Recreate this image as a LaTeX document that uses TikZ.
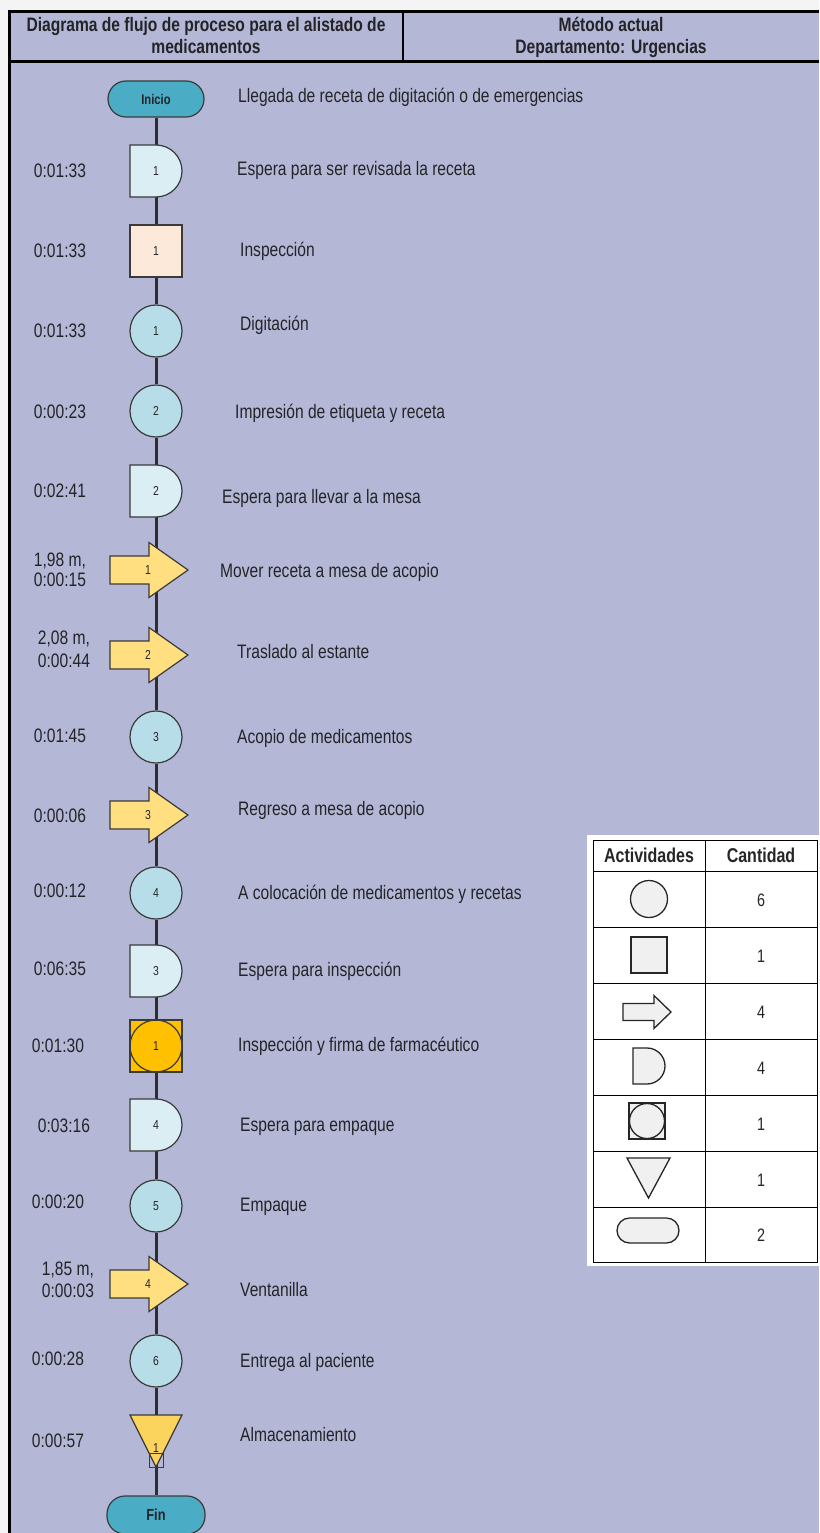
\documentclass[tikz,border=0pt]{standalone}
\usepackage{fontspec}
\setmainfont{Liberation Sans}[FakeStretch=0.8]
\usetikzlibrary{calc}

\definecolor{paper}{RGB}{244,244,244}
\definecolor{panel}{RGB}{180,184,214}
\definecolor{edge}{RGB}{58,58,58}
\definecolor{ink}{RGB}{36,36,40}
\definecolor{opfill}{RGB}{183,222,232}
\definecolor{waitfill}{RGB}{218,238,243}
\definecolor{inspfill}{RGB}{253,233,217}
\definecolor{combofill}{RGB}{255,192,0}
\definecolor{movefill}{RGB}{255,223,128}
\definecolor{storefill}{RGB}{250,212,92}
\definecolor{termfill}{RGB}{75,172,198}
\definecolor{legfill}{RGB}{240,240,240}

\pgfdeclarelayer{back}
\pgfdeclarelayer{links}
\pgfsetlayers{back,links,main}

% wait symbol (D shape) centred on the spine
\newcommand\waitsym[3]{%
  \filldraw[shapeline, fill=waitfill] (130,#2-26) -- (156,#2-26)
    arc[start angle=90, end angle=-90, radius=26pt] -- (130,#2+26) -- cycle;
  \node[num] (#1) at (156,#2) {#3};}

% transport symbol (block arrow)
\newcommand\movesym[3]{%
  \filldraw[shapeline, fill=movefill] (110,#2-14) -- (149,#2-14) -- (149,#2-27.5)
    -- (188,#2) -- (149,#2+27.5) -- (149,#2+14) -- (110,#2+14) -- cycle;
  \node[hub] (#1) at (156,#2) {};
  \node[num] (#1n) at (148,#2) {#3};}

\begin{document}
\begin{tikzpicture}[x=1pt,y=-1pt,
  body/.style={font=\fontsize{19.5}{22}\selectfont, text=ink, inner sep=0pt},
  desc/.style={body, anchor=base west},
  time/.style={body, anchor=base},
  head/.style={font=\bfseries\fontsize{19.5}{22}\selectfont, text=ink, inner sep=0pt, anchor=base},
  num/.style={font=\fontsize{13}{15}\selectfont, text=ink, inner sep=0pt},
  hub/.style={inner sep=0pt, minimum size=0pt},
  shapeline/.style={draw=edge, line width=1.2pt},
  op/.style={circle, shapeline, fill=opfill, minimum size=52pt, inner sep=0pt,
    font=\fontsize{13}{15}\selectfont, text=ink},
  insp/.style={rectangle, shapeline, fill=inspfill, minimum size=52pt, inner sep=0pt,
    font=\fontsize{13}{15}\selectfont, text=ink},
  combo/.style={rectangle, shapeline, fill=combofill, minimum size=52pt, inner sep=0pt,
    font=\fontsize{13}{15}\selectfont, text=ink},
  term/.style={rectangle, rounded corners=18pt, shapeline, fill=termfill, inner sep=0pt,
    font=\bfseries\fontsize{14}{16}\selectfont, text=ink},
  spine/.style={draw=black!82, line width=3pt},
  legline/.style={draw=black, line width=1pt},
  legsym/.style={draw=black!85, line width=1.3pt, fill=legfill},
  leghead/.style={font=\bfseries\fontsize{20}{24}\selectfont, text=black!85, inner sep=0pt, anchor=base},
  legval/.style={font=\fontsize{18}{22}\selectfont, text=black!85, inner sep=0pt, anchor=base}]

\useasboundingbox (0,0) rectangle (819,1533);

% page and panel
\begin{pgfonlayer}{back}
  \fill[paper] (0,0) rectangle (819,1533);
  \fill[panel] (9.5,11.5) rectangle (819,1533);
\end{pgfonlayer}

% frame and heading cells
\draw[line width=2.8pt] (9.5,1533) -- (9.5,11.5) -- (819,11.5);
\draw[line width=2.4pt] (9.5,61.5) -- (819,61.5);
\draw[line width=1.6pt] (403,11.5) -- (403,61.5);

\node[head] (title1) at (206,32) {Diagrama de flujo de proceso para el alistado de};
\node[head] (title2) at (206,54) {medicamentos};
\node[head] (meth1) at (611,32) {Método actual};
\node[head] (meth2) at (611,54) {Departamento: Urgencias};

% process symbols
\node[term, minimum width=96pt, minimum height=36pt] (start) at (156,99) {Inicio};
\waitsym{w1}{171}{1}
\node[insp] (i1) at (156,251) {1};
\node[op] (o1) at (156,331) {1};
\node[op] (o2) at (156,411) {2};
\waitsym{w2}{491}{2}
\movesym{m1}{570}{1}
\movesym{m2}{655}{2}
\node[op] (o3) at (156,737) {3};
\movesym{m3}{815}{3}
\node[op] (o4) at (156,893) {4};
\waitsym{w3}{971}{3}
\node[combo] (c1) at (156,1046) {};
\draw[shapeline] (c1.center) circle[radius=26pt];
\node[num] (c1n) at (156,1046) {1};
\waitsym{w4}{1125}{4}
\node[op] (o5) at (156,1206) {5};
\movesym{m4}{1284}{4}
\node[op] (o6) at (156,1361) {6};
% storage symbol with its small box
\filldraw[shapeline, fill=storefill] (130,1415) -- (182,1415) -- (156,1467) -- cycle;
\draw[draw=edge, line width=0.9pt] (149,1453) rectangle (163,1467);
\node[hub] (s1) at (156,1441) {};
\node[num] (s1n) at (156,1448) {1};
\node[term, minimum width=98pt, minimum height=38pt, font=\bfseries\fontsize{16}{18}\selectfont] (finish) at (156,1515) {Fin};

% spine connectors
\begin{pgfonlayer}{links}
  \foreach \a/\b in {start/w1, w1/i1, i1/o1, o1/o2, o2/w2, w2/m1, m1/m2, m2/o3,
      o3/m3, m3/o4, o4/w3, w3/c1, c1/w4, w4/o5, o5/m4, m4/o6, o6/s1, s1/finish}
    \draw[spine] (\a) -- (\b);
\end{pgfonlayer}

% descriptions
\node[desc] (d1) at (238,103) {Llegada de receta de digitación o de emergencias};
\node[desc] (d2) at (237,176) {Espera para ser revisada la receta};
\node[desc] (d3) at (240,256) {Inspección};
\node[desc] (d4) at (240,330) {Digitación};
\node[desc] (d5) at (235,418) {Impresión de etiqueta y receta};
\node[desc] (d6) at (222,503) {Espera para llevar a la mesa};
\node[desc] (d7) at (220,577) {Mover receta a mesa de acopio};
\node[desc] (d8) at (237,658) {Traslado al estante};
\node[desc] (d9) at (237,743) {Acopio de medicamentos};
\node[desc] (d10) at (238,815) {Regreso a mesa de acopio};
\node[desc] (d11) at (238,899) {A colocación de medicamentos y recetas};
\node[desc] (d12) at (238,976) {Espera para inspección};
\node[desc] (d13) at (238,1051) {Inspección y firma de farmacéutico};
\node[desc] (d14) at (240,1131) {Espera para empaque};
\node[desc] (d15) at (240,1211) {Empaque};
\node[desc] (d16) at (240,1296) {Ventanilla};
\node[desc] (d17) at (240,1367) {Entrega al paciente};
\node[desc] (d18) at (240,1441) {Almacenamiento};

% times and distances
\node[time] (t1) at (60,178) {0:01:33};
\node[time] (t2) at (60,257) {0:01:33};
\node[time] (t3) at (60,337) {0:01:33};
\node[time] (t4) at (60,418) {0:00:23};
\node[time] (t5) at (60,497) {0:02:41};
\node[time] (t6a) at (60,566) {1,98 m,};
\node[time] (t6b) at (60,586) {0:00:15};
\node[time] (t7a) at (64,644) {2,08 m,};
\node[time] (t7b) at (64,667) {0:00:44};
\node[time] (t8) at (60,742) {0:01:45};
\node[time] (t9) at (60,822) {0:00:06};
\node[time] (t10) at (60,897) {0:00:12};
\node[time] (t11) at (60,975) {0:06:35};
\node[time] (t12) at (58,1052) {0:01:30};
\node[time] (t13) at (64,1132) {0:03:16};
\node[time] (t14) at (58,1208) {0:00:20};
\node[time] (t15a) at (68,1275) {1,85 m,};
\node[time] (t15b) at (68,1297) {0:00:03};
\node[time] (t16) at (58,1365) {0:00:28};
\node[time] (t17) at (58,1447) {0:00:57};

% summary table
\fill[white] (587,835) rectangle (819,1266);
\draw[legline] (593,840) rectangle (817,1262);
\draw[legline] (705,840) -- (705,1262);
\foreach \yy in {871,927,983,1039,1095,1151,1207}
  \draw[legline] (593,\yy) -- (817,\yy);
\node[leghead] (lh1) at (649,862) {Actividades};
\node[leghead] (lh2) at (761,862) {Cantidad};
% activity symbols
\draw[legsym] (649,899) circle[radius=18.5pt];
\draw[legsym] (631,937) rectangle (667,973);
\draw[legsym] (623,1003.5) -- (654,1003.5) -- (654,995.5) -- (671,1012) -- (654,1028.5)
  -- (654,1020.5) -- (623,1020.5) -- cycle;
\draw[legsym] (633,1048) -- (647,1048) arc[start angle=90, end angle=-90, radius=18pt]
  -- (633,1084) -- cycle;
\draw[legsym] (629,1103) rectangle (665,1139);
\draw[legsym] (647,1121) circle[radius=17.5pt];
\draw[legsym] (627,1158) -- (670,1158) -- (648.5,1198) -- cycle;
\draw[legsym, rounded corners=12.5pt] (617,1218) rectangle (679,1243);
% counts
\node[legval] (v1) at (761,906) {6};
\node[legval] (v2) at (761,962) {1};
\node[legval] (v3) at (761,1018) {4};
\node[legval] (v4) at (761,1074) {4};
\node[legval] (v5) at (761,1130) {1};
\node[legval] (v6) at (761,1186) {1};
\node[legval] (v7) at (761,1241) {2};
\end{tikzpicture}
\end{document}
